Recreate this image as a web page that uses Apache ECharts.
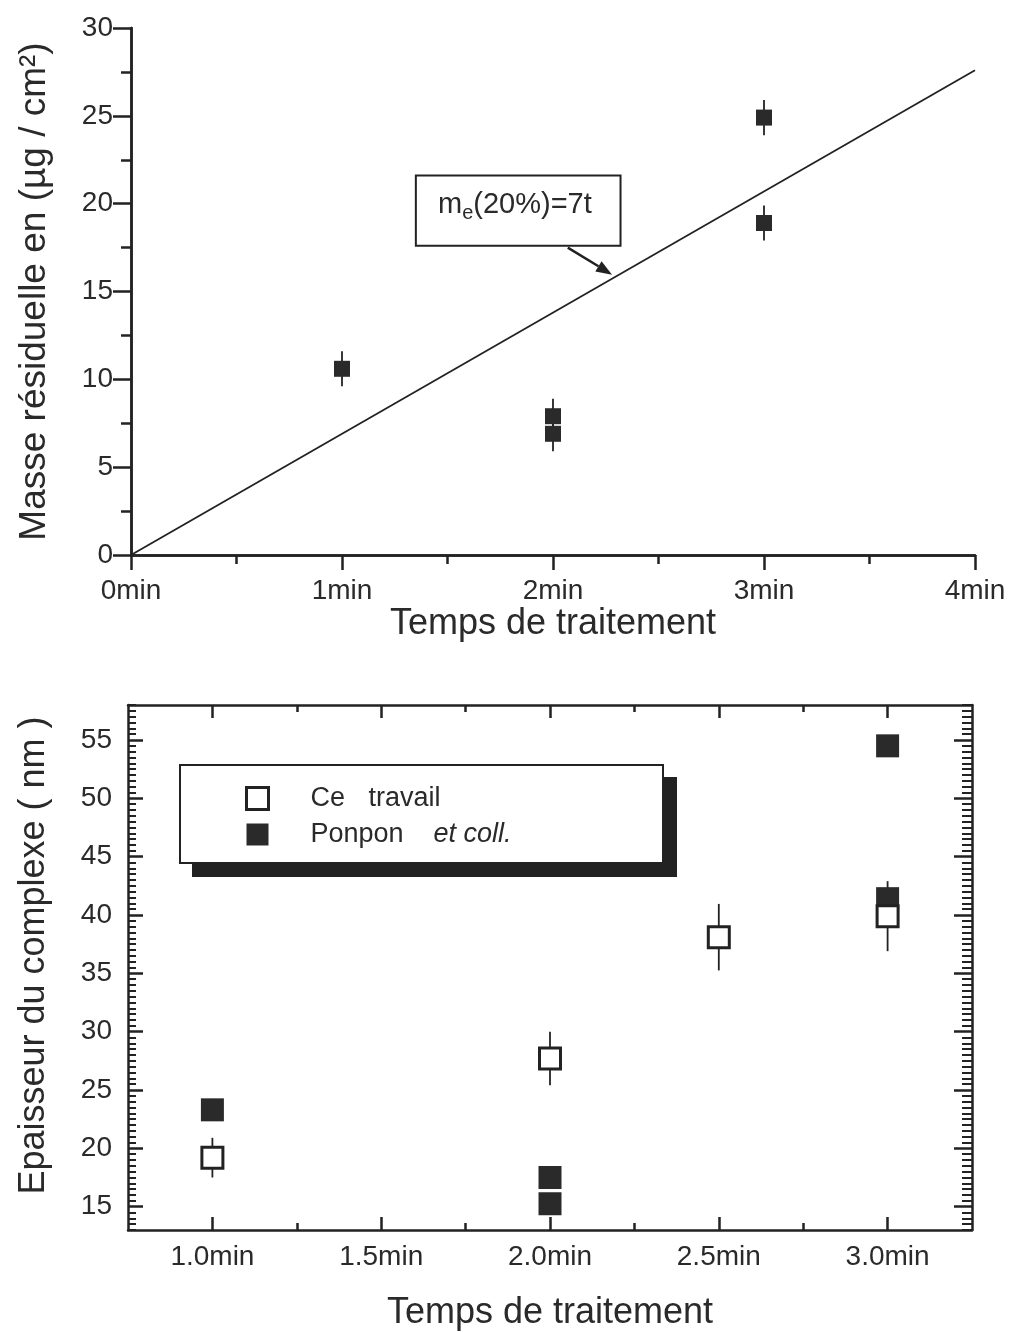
<!DOCTYPE html>
<html><head><meta charset="utf-8">
<script src="https://cdn.jsdelivr.net/npm/echarts@6/dist/echarts.min.js"></script>
<style>html,body{margin:0;padding:0;background:#fff}#c{width:1009px;height:1332px}</style>
</head><body><div id="c"></div>
<script>
// ---------- data: top chart ----------
const topXTicks = [0, 1, 2, 3, 4];            // min
const topYTicks = [0, 5, 10, 15, 20, 25, 30]; // µg/cm²
const fitLineX = [0, 4];
const fitLineY = [0, 27.6];                   // m_e(20%) = 7t
const massTimes = [1, 2, 2, 3, 3];
const massValues = [10.6, 7.9, 6.9, 24.9, 18.9];
const massErrors = [1.0, 1.0, 1.0, 1.0, 1.0];

// ---------- data: bottom chart ----------
const bottomXTicks = [1.0, 1.5, 2.0, 2.5, 3.0];
const bottomXMinorTicks = [1.25, 1.75, 2.25, 2.75];
const bottomYTicks = [15, 20, 25, 30, 35, 40, 45, 50, 55];
const ceTimes = [1.0, 2.0, 2.5, 3.0];
const ceValues = [19.2, 27.7, 38.1, 39.9];
const ceErrors = [1.7, 2.3, 2.85, 3.0];
const ponponTimes = [1.0, 2.0, 2.0, 3.0, 3.0];
const ponponValues = [23.3, 17.5, 15.25, 54.5, 41.4];

const FONT = 'Liberation Sans';
const INK = '#222';
const TXT = '#2a2a2a';

const bottomYMinor = [];
for (let v = 13; v <= 58.001; v += 0.5) { if (Math.abs(v % 5) > 1e-6) bottomYMinor.push(+v.toFixed(1)); }

const chart = echarts.init(document.getElementById('c'), null, { renderer: 'canvas' });

const axisLine = { show: true, lineStyle: { color: INK, width: 2.5 } };
const noSplit = { show: false };

function errSeries(xs, ys, es, xi, yi) {
  return {
    type: 'custom', xAxisIndex: xi, yAxisIndex: yi, silent: true, z: 1,
    data: xs.map((x, i) => [x, ys[i] - es[i], ys[i] + es[i]]),
    encode: { x: 0, y: [1, 2] },
    renderItem(params, api) {
      const lo = api.coord([api.value(0), api.value(1)]);
      const hi = api.coord([api.value(0), api.value(2)]);
      return { type: 'line', shape: { x1: lo[0], y1: lo[1], x2: hi[0], y2: hi[1] },
               style: { stroke: INK, lineWidth: 1.8 } };
    }
  };
}

const option = {
  backgroundColor: '#fff',
  animation: false,
  textStyle: { fontFamily: FONT },
  grid: [
    { left: 131, top: 28, width: 844, height: 527, containLabel: false },
    { left: 128, top: 705, width: 844, height: 528, containLabel: false }
  ],
  legend: {
    data: ['Ce travail', 'Ponpon et coll.'],
    orient: 'vertical',
    left: 180, top: 765,
    padding: [20, 61, 20, 65],
    itemWidth: 22, itemHeight: 22, itemGap: 9,
    selectedMode: false,
    z: 20,
    itemStyle: { borderWidth: 'inherit' },
    formatter: function (name) {
      if (name === 'Ce travail') return '{a|Ce}{b|travail}';
      return '{c|Ponpon}{i|et coll.}';
    },
    textStyle: {
      fontFamily: FONT, fontSize: 27, color: TXT,
      rich: {
        a: { fontFamily: FONT, fontSize: 27, color: TXT, width: 58, padding: [0, 0, 0, 37], lineHeight: 24 },
        b: { fontFamily: FONT, fontSize: 27, color: TXT, width: 235, lineHeight: 24 },
        c: { fontFamily: FONT, fontSize: 27, color: TXT, width: 123, padding: [0, 0, 0, 37], lineHeight: 24 },
        i: { fontFamily: FONT, fontSize: 27, color: TXT, fontStyle: 'italic', width: 170, lineHeight: 24 }
      }
    }
  },
  xAxis: [
    // top chart, bottom axis
    { gridIndex: 0, type: 'value', position: 'bottom', min: 0, max: 4, interval: 1,
      axisLine, splitLine: noSplit,
      axisTick: { show: true, inside: false, length: 15, lineStyle: { color: INK, width: 2.5 } },
      minorTick: { show: true, splitNumber: 2, length: 9, lineStyle: { color: INK, width: 2.5 } },
      axisLabel: { margin: 22, fontSize: 28, color: TXT, fontFamily: FONT, formatter: v => v + 'min' },
      name: 'Temps de traitement', nameLocation: 'middle', nameGap: 51,
      nameTextStyle: { fontSize: 36, color: TXT, fontFamily: FONT } },
    // top chart, mirrored top axis
    { gridIndex: 0, type: 'value', position: 'top', min: 0, max: 4, interval: 1,
      axisLine, splitLine: noSplit,
      axisTick: { show: true, inside: true, length: 15, lineStyle: { color: INK, width: 2.5 } },
      minorTick: { show: true, splitNumber: 2, length: 9, lineStyle: { color: INK, width: 2.5 } },
      axisLabel: { show: false } },
    // bottom chart, main bottom axis
    { gridIndex: 1, type: 'value', position: 'bottom', min: 0.75, max: 3.25,
      axisLine, splitLine: noSplit,
      axisTick: { show: true, inside: true, length: 13, customValues: bottomXTicks, lineStyle: { color: INK, width: 2.5 } },
      axisLabel: { margin: 13, fontSize: 28, color: TXT, fontFamily: FONT, customValues: bottomXTicks,
                   formatter: v => v.toFixed(1) + 'min' },
      name: 'Temps de traitement', nameLocation: 'middle', nameGap: 65,
      nameTextStyle: { fontSize: 36, color: TXT, fontFamily: FONT } },
    // bottom chart, minor ticks bottom
    { gridIndex: 1, type: 'value', position: 'bottom', min: 0.75, max: 3.25,
      axisLine: { show: false }, splitLine: noSplit,
      axisTick: { show: true, inside: true, length: 7, customValues: bottomXMinorTicks, lineStyle: { color: INK, width: 2.5 } },
      axisLabel: { show: false } },
    // bottom chart, top axis
    { gridIndex: 1, type: 'value', position: 'top', min: 0.75, max: 3.25,
      axisLine, splitLine: noSplit,
      axisTick: { show: true, inside: true, length: 13, customValues: bottomXTicks, lineStyle: { color: INK, width: 2.5 } },
      axisLabel: { show: false } },
    { gridIndex: 1, type: 'value', position: 'top', min: 0.75, max: 3.25,
      axisLine: { show: false }, splitLine: noSplit,
      axisTick: { show: true, inside: true, length: 7, customValues: bottomXMinorTicks, lineStyle: { color: INK, width: 2.5 } },
      axisLabel: { show: false } }
  ],
  yAxis: [
    { gridIndex: 0, type: 'value', position: 'left', min: 0, max: 30, interval: 5,
      axisLine, splitLine: noSplit,
      axisTick: { show: true, inside: false, length: 16, lineStyle: { color: INK, width: 2.5 } },
      minorTick: { show: true, splitNumber: 2, length: 8, lineStyle: { color: INK, width: 2.5 } },
      axisLabel: { margin: 18, fontSize: 28, color: TXT, fontFamily: FONT },
      name: 'Masse résiduelle en (µg / cm²)', nameLocation: 'middle', nameGap: 78,
      nameTextStyle: { fontSize: 37, color: TXT, fontFamily: FONT } },
    { gridIndex: 0, type: 'value', position: 'right', min: 0, max: 30, interval: 5,
      axisLine, splitLine: noSplit,
      axisTick: { show: true, inside: true, length: 18, lineStyle: { color: INK, width: 2.5 } },
      minorTick: { show: true, splitNumber: 2, length: 10, lineStyle: { color: INK, width: 2.5 } },
      axisLabel: { show: false } },
    // bottom chart left main
    { gridIndex: 1, type: 'value', position: 'left', min: 13, max: 58,
      axisLine, splitLine: noSplit,
      axisTick: { show: true, inside: true, length: 15, customValues: bottomYTicks, lineStyle: { color: INK, width: 2.5 } },
      axisLabel: { margin: 16, fontSize: 28, color: TXT, fontFamily: FONT, customValues: bottomYTicks },
      name: 'Epaisseur du complexe ( nm )', nameLocation: 'middle', nameGap: 76,
      nameTextStyle: { fontSize: 36, color: TXT, fontFamily: FONT, padding: [0, 0, 0, 24] } },
    { gridIndex: 1, type: 'value', position: 'left', min: 13, max: 58,
      axisLine: { show: false }, splitLine: noSplit,
      axisTick: { show: true, inside: true, length: 8, customValues: bottomYMinor, lineStyle: { color: INK, width: 2 } },
      axisLabel: { show: false } },
    { gridIndex: 1, type: 'value', position: 'right', min: 13, max: 58,
      axisLine, splitLine: noSplit,
      axisTick: { show: true, inside: true, length: 18, customValues: bottomYTicks, lineStyle: { color: INK, width: 2.5 } },
      axisLabel: { show: false } },
    { gridIndex: 1, type: 'value', position: 'right', min: 13, max: 58,
      axisLine: { show: false }, splitLine: noSplit,
      axisTick: { show: true, inside: true, length: 10, customValues: bottomYMinor, lineStyle: { color: INK, width: 2 } },
      axisLabel: { show: false } }
  ],
  series: [
    { type: 'line', name: 'fit', xAxisIndex: 0, yAxisIndex: 0, showSymbol: false, symbol: 'none',
      data: fitLineX.map((x, i) => [x, fitLineY[i]]), lineStyle: { color: INK, width: 1.8 }, z: 2, silent: true },
    errSeries(massTimes, massValues, massErrors, 0, 0),
    { type: 'scatter', name: 'masse', xAxisIndex: 0, yAxisIndex: 0, symbol: 'rect', symbolSize: 16,
      data: massTimes.map((x, i) => [x, massValues[i]]), itemStyle: { color: '#2a2a2a', opacity: 1 }, z: 3 },
    errSeries(ceTimes, ceValues, ceErrors, 2, 2),
    { type: 'scatter', name: 'Ponpon et coll.', xAxisIndex: 2, yAxisIndex: 2, symbol: 'rect', symbolSize: 23,
      data: ponponTimes.map((x, i) => [x, ponponValues[i]]), itemStyle: { color: '#2a2a2a', opacity: 1 }, z: 3 },
    { type: 'scatter', name: 'Ce travail', xAxisIndex: 2, yAxisIndex: 2, symbol: 'rect', symbolSize: 21,
      data: ceTimes.map((x, i) => [x, ceValues[i]]),
      itemStyle: { color: '#fff', borderColor: INK, borderWidth: 3, opacity: 1 }, z: 4 }
  ]
};
chart.setOption(option);

// annotation box + arrow (top chart), placed in data space
const toPx = (p) => chart.convertToPixel({ xAxisIndex: 0, yAxisIndex: 0 }, p);
const b1 = toPx([1.35, 21.6]), b2 = toPx([2.32, 17.6]);
const tp = toPx([1.455, 19.9]);
const a1 = toPx([2.07, 17.5]), a2 = toPx([2.28, 15.96]);
const dx = a2[0] - a1[0], dy = a2[1] - a1[1], L = Math.hypot(dx, dy);
const ux = dx / L, uy = dy / L, hl = 16, hw = 6;
const base = [a2[0] - ux * hl, a2[1] - uy * hl];
chart.setOption({
  graphic: [
    { type: 'rect', shape: { x: b1[0], y: b1[1], width: b2[0] - b1[0], height: b2[1] - b1[1] },
      style: { fill: '#fff', stroke: INK, lineWidth: 2 }, z: 100 },
    { type: 'text', x: tp[0], y: tp[1], z: 101,
      style: { text: 'm{s|e}(20%)=7t', fill: TXT, font: '29px "Liberation Sans"', verticalAlign: 'middle', align: 'left',
               rich: { s: { fontSize: 20, fontFamily: FONT, fill: TXT, padding: [16, 0, 0, 0] } } } },
    { type: 'line', shape: { x1: a1[0], y1: a1[1], x2: base[0], y2: base[1] }, style: { stroke: INK, lineWidth: 2.5 }, z: 100 },
    { type: 'polygon', shape: { points: [[a2[0], a2[1]], [base[0] - uy * hw, base[1] + ux * hw], [base[0] + uy * hw, base[1] - ux * hw]] },
      style: { fill: INK }, z: 100 },
    // legend frame with drop shadow (bottom chart)
    { type: 'rect', shape: { x: 192, y: 777, width: 485, height: 100 }, style: { fill: INK }, z: 10 },
    { type: 'rect', shape: { x: 180, y: 765, width: 483, height: 98 },
      style: { fill: '#fff', stroke: INK, lineWidth: 2 }, z: 11 }
  ]
});
</script>
</body></html>
